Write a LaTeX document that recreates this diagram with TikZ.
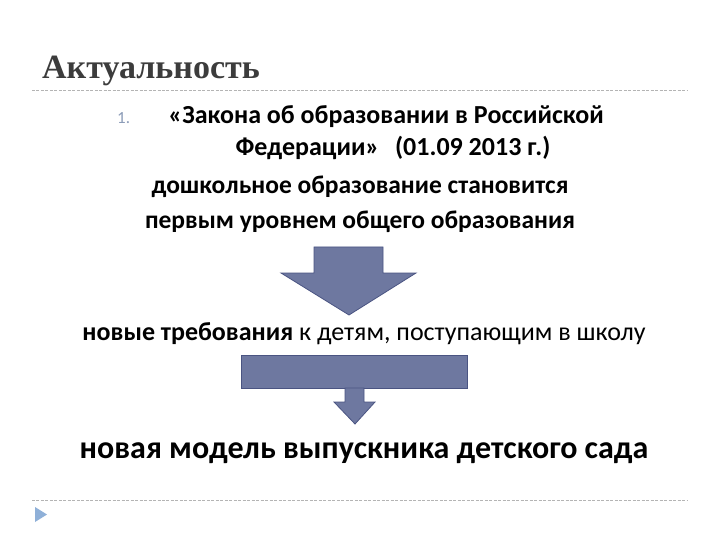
\documentclass[tikz,border=0pt]{standalone}
\usepackage{fontspec}
\setmainfont{Carlito}
\newfontfamily\titlefont{Liberation Serif}
\usetikzlibrary{calc}

\definecolor{arrowfill}{HTML}{6E78A0}
\definecolor{arrowline}{HTML}{4A5482}
\definecolor{rulegray}{HTML}{B4B4B4}
\definecolor{titlegray}{HTML}{3C3C3C}
\definecolor{numblue}{HTML}{8C9CB8}
\definecolor{markblue}{HTML}{8FB0D8}

\tikzset{
  blockarrow/.style={fill=arrowfill, draw=arrowline, line width=0.8pt},
  slideline/.style={rulegray, dashed, dash pattern=on 3pt off 1.5pt, line width=0.6pt},
  bodytext/.style={font=\fontsize{25.5bp}{30bp}\selectfont\bfseries, inner sep=0pt, align=center},
}

\begin{document}
\begin{tikzpicture}[x=1bp,y=-1bp]
    \useasboundingbox[fill=white] (0,0) rectangle (720,540);
    %%slide_frame
    \draw[slideline] (32,90) to (688,90);
    \draw[slideline] (32,500) to (688,500);
    \fill[markblue] (35,507) -- (47,514.5) -- (35,522) -- cycle;
    %%title
    \node[anchor=base west, inner sep=0pt, text=titlegray,
      font=\titlefont\fontsize{34bp}{38bp}\selectfont\bfseries] (title) at (42,79) {Актуальность};
    %%law
    \node[anchor=base west, inner sep=0pt, text=numblue,
      font=\fontsize{17bp}{20bp}\selectfont] (num) at (117,124) {1.};
    \node[bodytext, anchor=base, font=\fontsize{26bp}{30bp}\selectfont\bfseries] (law) at (386,124) {«Закона об образовании в Российской};
    \node[bodytext, anchor=base, font=\fontsize{26bp}{30bp}\selectfont\bfseries] (date) at (393,156) {Федерации»\hspace{0.6em}(01.09 2013 г.)};
    \node[bodytext, anchor=base] (level1) at (360,194) {дошкольное образование становится};
    \node[bodytext, anchor=base] (level2) at (360,229) {первым уровнем общего образования};
    %%big_arrow
    \draw[blockarrow] (314,247) -- (383,247) -- (383,273) -- (416,273)
      -- (349,315) -- (281,273) -- (314,273) -- cycle;
    %%requirements
    \node[anchor=base, inner sep=0pt, font=\fontsize{26bp}{30bp}\selectfont] (req) at (364,340)
      {\textbf{новые требования} к детям, поступающим в школу};
    %%small_arrow
    \draw[blockarrow] (241,355) rectangle (467,388);
    \draw[blockarrow] (345,388) -- (364,388) -- (364,402) -- (375,402)
      -- (355,424) -- (334,402) -- (345,402) -- cycle;
    %%model
    \node[anchor=base, inner sep=0pt, font=\fontsize{32bp}{36bp}\selectfont\bfseries] (model) at (364,458)
      {новая модель выпускника детского сада};
\end{tikzpicture}
\end{document}
